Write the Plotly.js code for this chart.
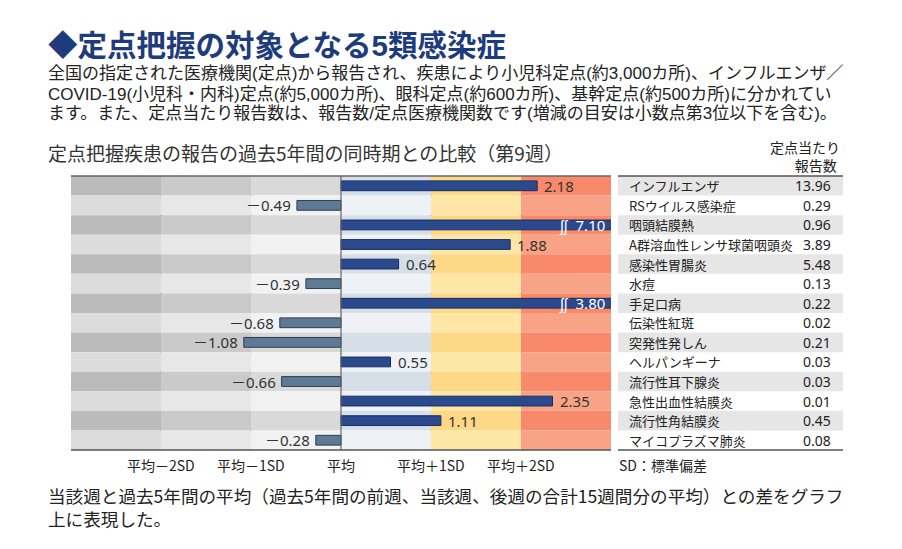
<!DOCTYPE html>
<html>
<head>
<meta charset="utf-8">
<script src="https://cdn.plot.ly/plotly-3.0.1.min.js"></script>
<style>html,body{margin:0;padding:0;background:#fff;}#chart{width:902px;height:549px;}</style>
</head>
<body>
<div id="chart"></div>
<script>
// ---- data ----
const diseases = ["インフルエンザ","RSウイルス感染症","咽頭結膜熱","A群溶血性レンサ球菌咽頭炎","感染性胃腸炎","水痘","手足口病","伝染性紅斑","突発性発しん","ヘルパンギーナ","流行性耳下腺炎","急性出血性結膜炎","流行性角結膜炎","マイコプラズマ肺炎"];
const diffSD = [2.18,-0.49,7.10,1.88,0.64,-0.39,3.80,-0.68,-1.08,0.55,-0.66,2.35,1.11,-0.28];
const perSentinel = ["13.96","0.29","0.96","3.89","5.48","0.13","0.22","0.02","0.21","0.03","0.03","0.01","0.45","0.08"];
const tickVals = [-2,-1,0,1,2];
const tickText = ["平均－2SD","平均－1SD","平均","平均＋1SD","平均＋2SD"];

// ---- layout helpers ----
const L=71, R=843, T=176, B=450, W=902, H=549;
const px = v => (v - L) / (R - L);
const py = v => (B - v) / (B - T);
const JP = '"Noto Sans CJK JP", "Noto Sans", sans-serif';
const JPL = '"Liberation Sans", "Noto Sans CJK JP", sans-serif';
const XMIN=-3, XMAX=3;

const bandColors = [
  ["#bbbbbb","#dcdcdc"],
  ["#cacaca","#e7e7e7"],
  ["#d9d9d9","#f2f2f2"],
  ["#d6dee8","#eef2f7"],
  ["#fdd886","#fee6a6"],
  ["#f8896b","#f9a386"]
];

const shapes = [];
const annotations = [];
const n = diseases.length;

// row bands
for (let i=0;i<n;i++){
  for (let c=0;c<6;c++){
    shapes.push({type:"rect", xref:"x", yref:"y", x0:XMIN+c, x1:XMIN+c+1, y0:i-0.5, y1:i+0.5,
      fillcolor: bandColors[c][i%2], line:{width:0}, layer:"below"});
  }
  if (i%2===0) shapes.push({type:"rect", xref:"x2", yref:"y", x0:0, x1:1, y0:i-0.5, y1:i+0.5,
      fillcolor:"#e6e6e6", line:{width:0}, layer:"below"});
}
// dotted SD lines
[-2,-1,1,2].forEach(v=>{
  shapes.push({type:"line", xref:"x", yref:"paper", x0:v, x1:v, y0:0, y1:1,
    line:{color:"#555", width:1.2, dash:"dot"}, layer:"below"});
});
// mean line
shapes.push({type:"line", xref:"x", yref:"paper", x0:0, x1:0, y0:0, y1:1, line:{color:"#666", width:1.2}, layer:"above"});
// top/bottom borders
shapes.push({type:"line", xref:"x", yref:"paper", x0:XMIN, x1:XMAX, y0:1, y1:1, line:{color:"#666", width:1.5}});
shapes.push({type:"line", xref:"x", yref:"paper", x0:XMIN, x1:XMAX, y0:0, y1:0, line:{color:"#555", width:1.5}});
shapes.push({type:"line", xref:"x2", yref:"paper", x0:0, x1:1, y0:1, y1:1, line:{color:"#555", width:1.5}});
shapes.push({type:"line", xref:"x2", yref:"paper", x0:0, x1:1, y0:0, y1:0, line:{color:"#555", width:1.5}});

// bar labels
const fmt = v => (v<0 ? "－" : "") + Math.abs(v).toFixed(2);
const LBL = '"Noto Sans", "Noto Sans CJK JP", sans-serif';
diffSD.forEach((v,i)=>{
  if (v > XMAX) {
    annotations.push({xref:"x", yref:"y", x:XMAX, y:i, xanchor:"right", yanchor:"middle", xshift:-4,
      text:"ʃʃ  " + fmt(v), showarrow:false, font:{family:LBL, size:15, color:"#ffffff"}});
  } else if (v >= 0) {
    annotations.push({xref:"x", yref:"y", x:v, y:i, xanchor:"left", yanchor:"middle", xshift:5,
      text:fmt(v), showarrow:false, font:{family:LBL, size:15, color:"#333"}});
  } else {
    annotations.push({xref:"x", yref:"y", x:v, y:i, xanchor:"right", yanchor:"middle", xshift:-4,
      text:fmt(v), showarrow:false, font:{family:LBL, size:15, color:"#333"}});
  }
});

// table text
diseases.forEach((d,i)=>{
  annotations.push({xref:"x2", yref:"y", x:0.04, y:i, xanchor:"left", yanchor:"middle", text:d, showarrow:false,
    font:{family:JP, size:13, color:"#222"}});
  annotations.push({xref:"x2", yref:"y", x:0.955, y:i, xanchor:"right", yanchor:"middle", text:perSentinel[i], showarrow:false,
    font:{family:'"Noto Sans", sans-serif', size:14, color:"#222"}});
});
annotations.push({xref:"paper", yref:"paper", x:px(841), y:py(156), xanchor:"right", yanchor:"middle", align:"right",
  text:"定点当たり<br>報告数&nbsp;", showarrow:false, borderpad:0, font:{family:JP, size:14, color:"#222"}});

// x tick labels
tickVals.forEach((v,k)=>{
  annotations.push({xref:"x", yref:"paper", x:v, y:py(465), xanchor:"center", yanchor:"middle", text:tickText[k], showarrow:false,
    font:{family:JP, size:14, color:"#222"}});
});
annotations.push({xref:"paper", yref:"paper", x:px(617), y:py(465), xanchor:"left", yanchor:"middle", text:"SD：標準偏差", showarrow:false,
  font:{family:JP, size:14, color:"#222"}});

// titles and paragraphs
const textBlocks = [
  {t:"<b>◆定点把握の対象となる5類感染症</b>", y:45, size:29.5, color:"#1e3c7c", f:JPL},
  {t:"全国の指定された医療機関(定点)から報告され、疾患により小児科定点(約3,000カ所)、インフルエンザ／", y:74, size:17, color:"#222", f:JPL},
  {t:"COVID-19(小児科・内科)定点(約5,000カ所)、眼科定点(約600カ所)、基幹定点(約500カ所)に分かれてい", y:94, size:17, color:"#222", f:JPL},
  {t:"ます。また、定点当たり報告数は、報告数/定点医療機関数です(増減の目安は小数点第3位以下を含む)。", y:114, size:17, color:"#222", f:JPL},
  {t:"定点把握疾患の報告の過去5年間の同時期との比較（第9週）", y:152, size:19, color:"#333", f:JP},
  {t:"当該週と過去5年間の平均（過去5年間の前週、当該週、後週の合計15週間分の平均）との差をグラフ<br>上に表現した。", y:506.5, size:17.6, color:"#222", f:JP}
];
textBlocks.forEach(b=>{
  annotations.push({xref:"paper", yref:"paper", x:px(47), y:py(b.y), xanchor:"left", yanchor:"middle", align:"left", text:b.t, showarrow:false,
    borderpad:0, font:{family:b.f, size:b.size, color:b.color}});
});

const barColors = diffSD.map(v => v>=0 ? "#2b4a8e" : "#5f7a94");
const barLines = diffSD.map(v => v>=0 ? "#1a2d5c" : "#2c3d50");

const trace = {
  type:"bar", orientation:"h", y:diseases.map((d,i)=>i), x:diffSD, width:0.5,
  marker:{color:barColors, line:{color:barLines, width:1}},
  hoverinfo:"skip", cliponaxis:true, xaxis:"x", yaxis:"y"
};

const layout = {
  width:W, height:H, margin:{l:L, r:W-R, t:T, b:H-B, pad:0},
  paper_bgcolor:"#fff", plot_bgcolor:"rgba(0,0,0,0)",
  showlegend:false,
  xaxis:{domain:[0, px(611)], range:[XMIN,XMAX], showgrid:false, zeroline:false, showticklabels:false, ticks:"", showline:false, fixedrange:true},
  xaxis2:{domain:[px(618), 1], range:[0,1], anchor:"y", showgrid:false, zeroline:false, showticklabels:false, ticks:"", showline:false},
  yaxis:{range:[n-0.5, -0.5], showgrid:false, zeroline:false, showticklabels:false, ticks:"", showline:false},
  shapes:shapes, annotations:annotations
};

Plotly.newPlot("chart", [trace], layout, {displayModeBar:false, staticPlot:true});
</script>
</body>
</html>
